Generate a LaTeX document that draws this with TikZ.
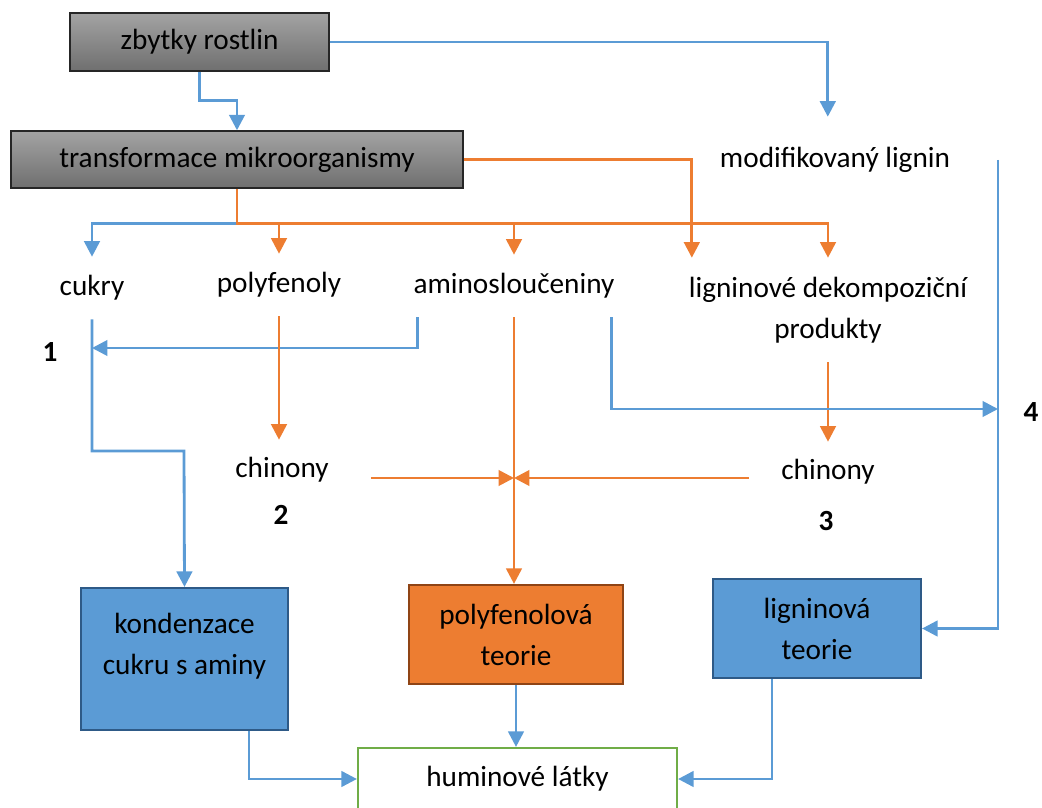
\documentclass[tikz,border=0pt]{standalone}
\usepackage{fontspec}
\setmainfont{Carlito}
\usepackage{xcolor}
\usepackage{tikz}
\usetikzlibrary{arrows.meta,positioning,calc}

\definecolor{lineblue}{HTML}{5B9BD5}
\definecolor{lineorange}{HTML}{ED7D31}
\definecolor{edgeblue}{HTML}{2E5A87}
\definecolor{edgeorange}{HTML}{8F4415}
\definecolor{edgegreen}{HTML}{70AD47}
\definecolor{graytop}{HTML}{A3A3A3}
\definecolor{graybot}{HTML}{6F6F6F}

\begin{document}
\begin{tikzpicture}[x=0.025cm, y=-0.025cm,
    txt/.style={inner sep=0pt, minimum height=1.55cm, align=center, font=\fontsize{20.8}{29.2}\selectfont},
    num/.style={inner sep=0pt, font=\fontsize{20.8}{25}\selectfont\bfseries},
    graybox/.style={txt, rectangle, draw=black!85, line width=1pt, top color=graytop, bottom color=graybot},
    bluebox/.style={txt, rectangle, draw=edgeblue, line width=1.5pt, fill=lineblue},
    orangebox/.style={txt, rectangle, draw=edgeorange, line width=1.5pt, fill=lineorange},
    greenbox/.style={txt, rectangle, draw=edgegreen, line width=1.5pt, fill=white},
    barrow/.style={-{Triangle[length=11pt,width=11pt]}, draw=lineblue, line width=2pt},
    oarrow/.style={-{Triangle[length=11pt,width=11pt]}, draw=lineorange, line width=2pt}
]
\useasboundingbox (0,0) rectangle (1042,808);
\clip (0,0) rectangle (1042,808);

% Sources
\node[graybox, minimum width=6.475cm, minimum height=1.45cm] (zbytky) at (199.5,42) {zbytky rostlin};
\node[graybox, minimum width=11.3cm, minimum height=1.425cm] (transf) at (237,159.5) {transformace mikroorganismy};
\node[txt, minimum height=2.15cm] (modlig) at (835,160) {modifikovaný lignin};

% Products
\node[txt] (cukry) at (92,288) {cukry};
\node[txt] (polyf) at (279,285) {polyfenoly};
\node[txt] (amino) at (514,286) {aminosloučeniny};
\node[txt, minimum height=2.6cm] (lign) at (828,310) {ligninové dekompoziční\\produkty};
\node[txt, minimum height=1.5cm, inner xsep=1.05cm] (chin2) at (282,470) {chinony};
\node[txt, minimum height=1.5cm, inner xsep=0.8cm] (chin3) at (828,472) {chinony};

% Pathway numbers
\node[num] (n1) at (50,352) {1};
\node[num] (n2) at (281,515) {2};
\node[num] (n3) at (826,521) {3};
\node[num] (n4) at (1031,412) {4};

% Theories
\node[bluebox, minimum width=5.175cm, minimum height=3.55cm, text depth=22pt] (kond) at (184.5,659) {kondenzace\\cukru s aminy};
\node[orangebox, minimum width=5.35cm, minimum height=2.475cm] (polyt) at (516,634.5) {polyfenolová\\teorie};
\node[bluebox, minimum width=5.2cm, minimum height=2.475cm] (ligt) at (817,628.5) {ligninová\\teorie};
\node[greenbox, minimum width=7.975cm, minimum height=1.55cm] (humin) at (517.5,779) {huminové látky};

% Junctions
\coordinate (hub) at ($(transf.south)+(0,35)$);
\coordinate (j1) at (92,348);
\coordinate (bend1) at (184,451);
\coordinate (j2) at (514,478);
\coordinate (j4) at (998,409);

% Arrows from the top
\draw[barrow] (zbytky.south) -- ++(0,29) -| (transf.north);
\draw[barrow] (zbytky.east) -| ([xshift=-0.18cm]modlig.north);
\draw[barrow] (hub) -| (cukry.north);
\draw[oarrow] (transf.south) -- (hub) -| (polyf.north);
\draw[oarrow] (hub) -| (amino.north);
\draw[oarrow] (hub) -| (lign.north);
\draw[oarrow] (transf.east) -| ([xshift=0.08cm]lign.north west);

% Pathway 1
\draw[barrow] ([xshift=0.1cm]amino.south west) |- (j1);
\draw[barrow] (cukry.south) |- (bend1) -- (kond.north);

% Pathways 2 and 3
\draw[oarrow] (polyf.south) -- (polyf.south |- chin2.north);
\draw[oarrow] (amino.south) -- (amino.south |- polyt.north);
\draw[oarrow] (chin2.east |- j2) -- (j2);
\draw[oarrow] (chin3.west |- j2) -- (j2);
\draw[oarrow] (lign.south) -- (lign.south |- chin3.north);

% Pathway 4
\draw[barrow] ([xshift=-0.08cm]amino.south east) |- (j4);
\draw[barrow] (modlig.east -| j4) |- (ligt.east);

% Into humic substances
\draw[barrow] ([xshift=1.61cm]kond.south) |- (humin.west);
\draw[barrow] (polyt.south) -- (polyt.south |- humin.north);
\draw[barrow] ([xshift=-1.125cm]ligt.south) |- (humin.east);

\end{tikzpicture}
\end{document}
